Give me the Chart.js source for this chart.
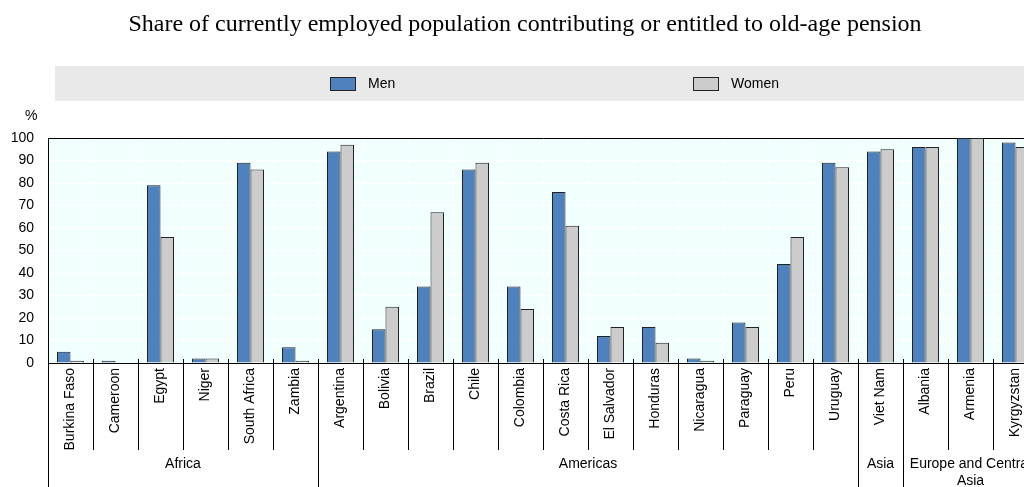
<!DOCTYPE html>
<html>
<head>
    <title>Old-age pension coverage</title>
    <script src="https://cdn.jsdelivr.net/npm/chart.js@4/dist/chart.umd.min.js"></script>
    <style>
        body { margin: 0; overflow: hidden; background: #fff; }
    </style>
</head>
<body>
    <canvas id="pensionChart" width="1040" height="487"></canvas>

    <script>
        // Data
        const countries = ["Burkina Faso", "Cameroon", "Egypt", "Niger", "South Africa", "Zambia",
            "Argentina", "Bolivia", "Brazil", "Chile", "Colombia", "Costa Rica", "El Salvador",
            "Honduras", "Nicaragua", "Paraguay", "Peru", "Uruguay", "Viet Nam",
            "Albania", "Armenia", "Kyrgyzstan"];
        const men = [5, 1, 79, 2, 89, 7, 94, 15, 34, 86, 34, 76, 12, 16, 2, 18, 44, 89, 94, 96, 100, 98];
        const women = [1, 0, 56, 2, 86, 1, 97, 25, 67, 89, 24, 61, 16, 9, 1, 16, 56, 87, 95, 96, 100, 96];
        const regions = ["Africa", "Americas", "Asia", "Europe and Central Asia"];
        const regionSizes = [6, 12, 1, 3];
        const yTicks = [0, 10, 20, 30, 40, 50, 60, 70, 80, 90, 100];

        const titleText = "Share of currently employed population contributing or entitled to old-age pension";

        Chart.defaults.font.family = "'Liberation Sans', Arial, sans-serif";
        Chart.defaults.font.size = 14;
        Chart.defaults.color = "#000";

        // Title, legend band, % label, separators under the axis and region names
        const decor = {
            id: "decor",
            beforeDraw(chart) {
                const ctx = chart.ctx;
                const a = chart.chartArea;
                ctx.save();
                ctx.fillStyle = "#e9e9e9";
                ctx.fillRect(55, 66, chart.width - 55, 35);
                ctx.fillStyle = "#f2ffff";
                ctx.fillRect(a.left, a.top, a.right - a.left, a.bottom - a.top);
                ctx.restore();
            },
            afterDraw(chart) {
                const ctx = chart.ctx;
                const a = chart.chartArea;
                const x = chart.scales.x;
                ctx.save();

                // title
                ctx.fillStyle = "#000";
                ctx.font = "24px 'Liberation Serif', 'Times New Roman', serif";
                ctx.textAlign = "center";
                ctx.textBaseline = "middle";
                ctx.fillText(titleText, 525, 25);

                // legend
                ctx.font = "14px 'Liberation Sans', Arial, sans-serif";
                ctx.textAlign = "left";
                const legendX = [330, 693];
                chart.data.datasets.forEach((ds, i) => {
                    ctx.fillStyle = ds.backgroundColor;
                    ctx.fillRect(legendX[i], 77, 26, 14);
                    ctx.strokeStyle = "#222";
                    ctx.lineWidth = 1;
                    ctx.strokeRect(legendX[i] + 0.5, 77.5, 25, 13);
                    ctx.fillStyle = "#000";
                    ctx.fillText(ds.label, legendX[i] + 38, 84);
                });

                // unit label
                ctx.fillText("%", 25, 116);

                // separators below the axis
                const step = x.getPixelForValue(1) - x.getPixelForValue(0);
                const bounds = [0];
                regionSizes.forEach(n => bounds.push(bounds[bounds.length - 1] + n));
                ctx.strokeStyle = "#000";
                ctx.lineWidth = 1;
                for (let i = 0; i <= countries.length; i++) {
                    const px = Math.round(x.getPixelForValue(0) - step / 2 + i * step) + 0.5;
                    const isRegion = bounds.includes(i);
                    ctx.beginPath();
                    ctx.moveTo(px, a.bottom - 4);
                    ctx.lineTo(px, isRegion ? chart.height : a.bottom + 87);
                    ctx.stroke();
                }

                // region names
                ctx.textAlign = "center";
                ctx.textBaseline = "middle";
                regions.forEach((name, r) => {
                    const left = x.getPixelForValue(0) - step / 2 + bounds[r] * step;
                    const width = regionSizes[r] * step;
                    const cx = left + width / 2;
                    const words = name.split(" ");
                    const lines = [];
                    let line = "";
                    words.forEach(w => {
                        const test = line ? line + " " + w : w;
                        if (ctx.measureText(test).width > width - 6 && line) {
                            lines.push(line);
                            line = w;
                        } else {
                            line = test;
                        }
                    });
                    lines.push(line);
                    lines.forEach((l, k) => ctx.fillText(l, cx, 464 + k * 17));
                });
                ctx.restore();
            }
        };

        const ctx = document.getElementById("pensionChart").getContext("2d");

        const chart = new Chart(ctx, {
            type: "bar",
            data: {
                labels: countries,
                datasets: [
                    {
                        label: "Men",
                        data: men,
                        backgroundColor: "#4f81bd",
                        borderColor: "#222",
                        borderWidth: 1
                    },
                    {
                        label: "Women",
                        data: women,
                        backgroundColor: "#cccccc",
                        borderColor: "#222",
                        borderWidth: 1
                    }
                ]
            },
            options: {
                responsive: false,
                animation: false,
                devicePixelRatio: 1,
                layout: { padding: { top: 138, left: 0, right: 2, bottom: 0 } },
                datasets: {
                    bar: { categoryPercentage: 0.6, barPercentage: 1.0 }
                },
                plugins: {
                    legend: { display: false },
                    tooltip: { enabled: false }
                },
                scales: {
                    x: {
                        grid: {
                            offset: true,
                            color: "#ffffff",
                            drawTicks: false
                        },
                        border: { color: "#000", width: 1 },
                        ticks: {
                            autoSkip: false,
                            minRotation: 90,
                            maxRotation: 90,
                            padding: 5,
                            color: "#000"
                        },
                        afterFit(scale) { scale.height = 124; }
                    },
                    y: {
                        min: 0,
                        max: 100,
                        afterBuildTicks(scale) {
                            scale.ticks = yTicks.map(v => ({ value: v }));
                        },
                        grid: {
                            color: c => c.tick && c.tick.value === 100 ? "#000" : "#ffffff",
                            drawTicks: false
                        },
                        border: { color: "#000", width: 1 },
                        ticks: { padding: 14, color: "#000" },
                        afterFit(scale) { scale.width = 48; }
                    }
                }
            },
            plugins: [decor]
        });
    </script>
</body>
</html>
